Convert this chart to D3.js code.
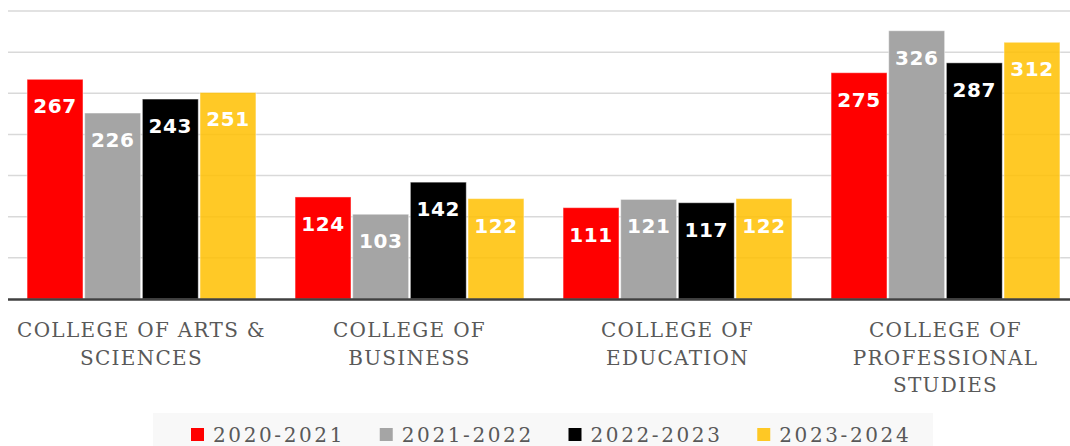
<!DOCTYPE html>
<html>
<head>
<meta charset="utf-8">
<script src="https://cdn.jsdelivr.net/npm/d3@7"></script>
<style>
  body { margin: 0; background: #ffffff; }
  svg { display: block; }
</style>
</head>
<body>
<svg class="chart" width="1070" height="446"></svg>
<script>
// data
var categories = ["Arts & Sciences", "Business", "Education", "Professional Studies"]
var categoryLines = [
  ["COLLEGE OF ARTS &", "SCIENCES"],
  ["COLLEGE OF", "BUSINESS"],
  ["COLLEGE OF", "EDUCATION"],
  ["COLLEGE OF", "PROFESSIONAL", "STUDIES"]
]
var years = ["2020-2021", "2021-2022", "2022-2023", "2023-2024"]
var values2020 = [267, 124, 111, 275]
var values2021 = [226, 103, 121, 326]
var values2022 = [243, 142, 117, 287]
var values2023 = [251, 122, 122, 312]
var yTicks = [50, 100, 150, 200, 250, 300, 350]

var seriesValues = [values2020, values2021, values2022, values2023]
var colors = ["#ff0000", "#a5a5a5", "#000000", "#ffc000"]

var svg = d3.select("svg.chart")
var width = 1070

// scales
var x0 = d3.scaleBand()
  .domain(categories)
  .range([7.5, 1079.5])
  .paddingInner(0.146)
  .paddingOuter(0.073)

var x1 = d3.scaleBand()
  .domain(years)
  .range([0, x0.bandwidth()])
  .paddingInner(0.03)

var y = d3.scaleLinear()
  .domain([0, 350])
  .range([299, 11])

var color = d3.scaleOrdinal().domain(years).range(colors)

// gridlines
svg.append("g").selectAll("line")
  .data(yTicks).enter()
  .append("line")
  .attr("x1", 8)
  .attr("x2", width)
  .attr("y1", function(d){ return y(d) })
  .attr("y2", function(d){ return y(d) })
  .style("stroke", "#d9d9d9")
  .style("stroke-width", 1.5)

// one table row per category
var rows = categories.map(function(c, i){
  return { cat: c, lines: categoryLines[i], bars: years.map(function(yr, j){ return { year: yr, value: seriesValues[j][i] } }) }
})

var groups = svg.append("g").selectAll("g")
  .data(rows).enter()
  .append("g")
  .attr("transform", function(d){ return "translate(" + x0(d.cat) + ",0)" })

groups.selectAll("rect")
  .data(function(d){ return d.bars }).enter()
  .append("rect")
  .attr("x", function(d){ return x1(d.year) })
  .attr("y", function(d){ return y(d.value) })
  .attr("width", x1.bandwidth())
  .attr("height", function(d){ return y(0) - y(d.value) })
  .attr("fill", function(d){ return color(d.year) })
  .attr("fill-opacity", function(d){ return d.year == "2023-2024" ? 0.85 : 1 })
  .style("stroke", "rgba(255,255,255,0.45)")
  .style("stroke-width", 1)

// value labels inside the bars
groups.selectAll("text.value")
  .data(function(d){ return d.bars }).enter()
  .append("text")
  .attr("class", "value")
  .attr("x", function(d){ return x1(d.year) + x1.bandwidth() / 2 })
  .attr("y", function(d){ return y(d.value) + 34 })
  .attr("text-anchor", "middle")
  .style("font-family", "'DejaVu Sans', Verdana, sans-serif")
  .style("font-weight", "bold")
  .style("font-size", "20px")
  .style("letter-spacing", "0.6px")
  .style("fill", "#ffffff")
  .text(function(d){ return d.value })

// x axis line
svg.append("line")
  .attr("x1", 8)
  .attr("x2", width)
  .attr("y1", y(0) + 0.5)
  .attr("y2", y(0) + 0.5)
  .style("stroke", "#404040")
  .style("stroke-width", 2.5)

// category labels
var labels = svg.append("g").selectAll("text")
  .data(rows).enter()
  .append("text")
  .attr("text-anchor", "middle")
  .style("font-family", "'DejaVu Serif', serif")
  .style("font-size", "20px")
  .style("letter-spacing", "1.3px")
  .style("fill", "#595959")

labels.selectAll("tspan")
  .data(function(d){ return d.lines.map(function(l){ return { line: l, cat: d.cat } }) }).enter()
  .append("tspan")
  .attr("x", function(d){ return x0(d.cat) + x0.bandwidth() / 2 })
  .attr("y", function(d, i){ return 337 + i * 27.5 })
  .text(function(d){ return d.line })

// legend
svg.append("rect")
  .attr("x", 153)
  .attr("y", 413)
  .attr("width", 780)
  .attr("height", 40)
  .attr("fill", "#f8f8f8")

var legendX = d3.scaleBand().domain(years).range([191, 946])

var legend = svg.append("g").selectAll("g")
  .data(years).enter()
  .append("g")
  .attr("transform", function(d){ return "translate(" + legendX(d) + ",0)" })

legend.append("rect")
  .attr("y", 428)
  .attr("width", 13)
  .attr("height", 13)
  .attr("fill", function(d){ return color(d) })
  .attr("fill-opacity", function(d){ return d == "2023-2024" ? 0.85 : 1 })

legend.append("text")
  .attr("x", 22)
  .attr("y", 442)
  .style("font-family", "'DejaVu Serif', serif")
  .style("font-size", "20px")
  .style("letter-spacing", "2.6px")
  .style("fill", "#595959")
  .text(function(d){ return d })
</script>
</body>
</html>
